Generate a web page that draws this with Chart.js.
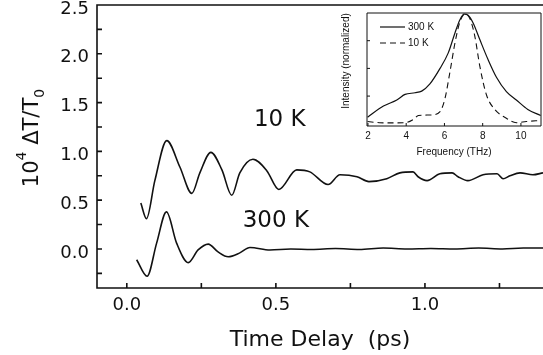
<!DOCTYPE html>
<html>
<head>
<meta charset="utf-8">
<script src="https://cdn.jsdelivr.net/npm/chart.js@4.4.0/dist/chart.umd.min.js"></script>
<style>
  body { margin: 0; background: #fff; }
  #wrap { position: relative; width: 543px; height: 355px; }
  #main { position: absolute; left: 0; top: 0; }
  #inset { position: absolute; left: 330px; top: 8px; background: #fff; }
</style>
</head>
<body>
<div id="wrap">
  <canvas id="main" width="543" height="355"></canvas>
  <canvas id="inset" width="213" height="152"></canvas>
</div>
<script>
// --------------- main panel data -----------------------
const time10K = [0.047, 0.066, 0.094, 0.134, 0.178, 0.218, 0.245, 0.282, 0.319, 0.352, 0.379, 0.423,
  0.470, 0.510, 0.570, 0.614, 0.675, 0.715, 0.772, 0.812, 0.872, 0.916, 0.960, 0.977, 1.007, 1.050,
  1.091, 1.111, 1.144, 1.195, 1.242, 1.262, 1.285, 1.319, 1.362, 1.396];
const signal10K = [0.47, 0.31, 0.70, 1.11, 0.84, 0.57, 0.78, 0.99, 0.81, 0.55, 0.78, 0.92,
  0.80, 0.61, 0.81, 0.79, 0.66, 0.76, 0.74, 0.69, 0.72, 0.78, 0.79, 0.74, 0.70, 0.77,
  0.78, 0.74, 0.70, 0.76, 0.77, 0.72, 0.75, 0.78, 0.76, 0.78];

const time300K = [0.033, 0.068, 0.100, 0.133, 0.167, 0.206, 0.239, 0.273, 0.306, 0.340, 0.379, 0.413,
  0.480, 0.550, 0.620, 0.700, 0.780, 0.860, 0.940, 1.020, 1.100, 1.180, 1.260, 1.330, 1.396];
const signal300K = [-0.11, -0.28, 0.06, 0.38, 0.06, -0.14, -0.01, 0.05, -0.03, -0.08, -0.04, 0.015,
  -0.01, 0.0, -0.005, 0.005, -0.005, 0.01, 0.0, 0.005, 0.0, 0.01, 0.0, 0.01, 0.01];

const delayTicks = [0, 0.25, 0.5, 0.75, 1.0, 1.25];
const signalTicks = [-0.25, 0, 0.25, 0.5, 0.75, 1.0, 1.25, 1.5, 1.75, 2.0, 2.25, 2.5];

const curveNames = ['10 K', '300 K'];
const nameTimes = [0.513, 0.50];
const nameSignals = [1.322, 0.283];

// --------------- inset data -----------------------
const freq300K = [1.98, 2.81, 3.51, 3.94, 4.46, 4.81, 5.24, 5.77, 6.20, 6.55, 6.81, 7.03, 7.24,
  7.50, 7.85, 8.28, 8.72, 9.24, 9.76, 10.36, 11.03];
const inten300K = [0.06, 0.16, 0.215, 0.265, 0.28, 0.295, 0.36, 0.50, 0.64, 0.82, 0.94, 0.99, 0.98,
  0.91, 0.76, 0.58, 0.42, 0.29, 0.215, 0.13, 0.075];

const freq10K = [1.98, 2.6, 3.2, 3.94, 4.38, 4.64, 5.33, 5.77, 6.03, 6.29, 6.55, 6.81, 7.07, 7.33,
  7.59, 7.85, 8.20, 8.63, 9.24, 9.76, 10.28, 11.03];
const inten10K = [0.02, 0.01, 0.008, 0.01, 0.04, 0.075, 0.08, 0.11, 0.23, 0.47, 0.73, 0.92, 0.99, 0.95,
  0.79, 0.52, 0.26, 0.13, 0.05, 0.01, 0.02, 0.03];

const freqTicks = [2, 4, 6, 8, 10];
const intenTicks = [0.25, 0.5, 0.75];

const ink = '#111';
const isHalf = v => Math.abs(v * 2 - Math.round(v * 2)) < 1e-6;
const toPoints = (xs, ys) => xs.map((x, i) => ({x: x, y: ys[i]}));
const noPad = s => { s.paddingTop = 0; s.paddingBottom = 0; s.paddingLeft = 0; s.paddingRight = 0; };

// --------------- frame with inward ticks -----------------------
function framePlugin(tickLen, lineW, closed) {
    return {
        id: 'frame',
        afterDraw(chart) {
            const {ctx, chartArea: a, scales} = chart;
            ctx.save();
            ctx.strokeStyle = ink;
            ctx.lineWidth = lineW;
            ctx.beginPath();
            ctx.moveTo(a.right, a.top);
            ctx.lineTo(a.left, a.top);
            ctx.lineTo(a.left, a.bottom);
            ctx.lineTo(a.right, a.bottom);
            if (closed) ctx.lineTo(a.right, a.top);
            scales.x.ticks.forEach(t => {
                const px = scales.x.getPixelForValue(t.value);
                ctx.moveTo(px, a.bottom);
                ctx.lineTo(px, a.bottom - tickLen);
            });
            scales.y.ticks.forEach(t => {
                const py = scales.y.getPixelForValue(t.value);
                ctx.moveTo(a.left, py);
                ctx.lineTo(a.left + tickLen, py);
            });
            ctx.stroke();
            ctx.restore();
        }
    };
}

// --------------- y labels, y title and curve names -----------------------
const mainText = {
    id: 'mainText',
    afterDraw(chart) {
        const {ctx, scales, chartArea} = chart;
        ctx.save();
        ctx.fillStyle = ink;

        // y tick labels sit a little below their ticks, as in the original
        ctx.font = '18px "DejaVu Sans"';
        ctx.textAlign = 'right';
        ctx.textBaseline = 'middle';
        scales.y.ticks.forEach(t => {
            if (isHalf(t.value)) {
                ctx.fillText(t.value.toFixed(1), chartArea.left - 8, scales.y.getPixelForValue(t.value) + 4);
            }
        });

        ctx.font = '23px "DejaVu Sans"';
        ctx.textAlign = 'center';
        curveNames.forEach((n, i) => {
            ctx.fillText(n, scales.x.getPixelForValue(nameTimes[i]), scales.y.getPixelForValue(nameSignals[i]));
        });

        ctx.translate(38, 138);
        ctx.rotate(-Math.PI / 2);
        ctx.textAlign = 'left';
        ctx.textBaseline = 'alphabetic';
        const big = '21px "DejaVu Sans"', small = '14px "DejaVu Sans"';
        const parts = [['10', big, 0], ['4', small, -12], [' \u0394T/T', big, 0], ['0', small, 6]];
        let total = 0;
        parts.forEach(p => { ctx.font = p[1]; p.w = ctx.measureText(p[0]).width; total += p.w; });
        let x = -total / 2;
        parts.forEach(p => { ctx.font = p[1]; ctx.fillText(p[0], x, p[2]); x += p.w; });
        ctx.restore();
    }
};

// --------------- main chart -----------------------
const mainChart = new Chart(document.getElementById('main'), {
    type: 'line',
    data: {
        datasets: [{
            label: '10 K',
            data: toPoints(time10K, signal10K),
            borderColor: ink,
            borderWidth: 1.6,
            pointRadius: 0,
            cubicInterpolationMode: 'monotone',
            fill: false
        }, {
            label: '300 K',
            data: toPoints(time300K, signal300K),
            borderColor: ink,
            borderWidth: 1.6,
            pointRadius: 0,
            cubicInterpolationMode: 'monotone',
            fill: false
        }]
    },
    options: {
        responsive: false,
        animation: false,
        layout: { padding: { top: 5, right: 0, bottom: 0, left: 0 }, autoPadding: false },
        plugins: { legend: { display: false }, tooltip: { enabled: false } },
        scales: {
            x: {
                type: 'linear',
                min: -0.1,
                max: 1.396,
                grid: { display: false, drawTicks: false },
                border: { display: false },
                afterBuildTicks: s => { s.ticks = delayTicks.map(v => ({value: v})); },
                afterFit: s => { s.height = 67; noPad(s); },
                ticks: {
                    padding: 7,
                    autoSkip: false,
                    maxRotation: 0,
                    color: ink,
                    font: { family: 'DejaVu Sans', size: 18 },
                    callback: v => isHalf(v) ? v.toFixed(1) : ''
                },
                title: {
                    display: true,
                    text: 'Time Delay  (ps)',
                    color: ink,
                    font: { family: 'DejaVu Sans', size: 22 },
                    padding: { top: 0, bottom: 2 }
                }
            },
            y: {
                type: 'linear',
                min: -0.4,
                max: 2.5,
                grid: { display: false, drawTicks: false },
                border: { display: false },
                afterBuildTicks: s => { s.ticks = signalTicks.map(v => ({value: v})); },
                afterFit: s => { s.width = 97; noPad(s); },
                ticks: { display: false }
            }
        }
    },
    plugins: [framePlugin(5, 1.6, false), mainText]
});

// --------------- inset legend and y title -----------------------
const insetText = {
    id: 'insetText',
    afterDraw(chart) {
        const ctx = chart.ctx;
        ctx.save();
        ctx.fillStyle = ink;
        ctx.strokeStyle = ink;
        ctx.lineWidth = 1.2;
        ctx.font = '10px "Liberation Sans"';
        ctx.textBaseline = 'middle';
        chart.data.datasets.forEach((d, i) => {
            const y = 19 + i * 16;
            ctx.setLineDash(d.borderDash || []);
            ctx.beginPath();
            ctx.moveTo(50, y);
            ctx.lineTo(75, y);
            ctx.stroke();
            ctx.fillText(d.label, 78, y);
        });
        ctx.setLineDash([]);
        ctx.translate(16, 53);
        ctx.rotate(-Math.PI / 2);
        ctx.textAlign = 'center';
        ctx.fillText('Intensity (normalized)', 0, 0);
        ctx.restore();
    }
};

// --------------- inset chart -----------------------
const insetChart = new Chart(document.getElementById('inset'), {
    type: 'line',
    data: {
        datasets: [{
            label: '300 K',
            data: toPoints(freq300K, inten300K),
            borderColor: ink,
            borderWidth: 1.2,
            pointRadius: 0,
            cubicInterpolationMode: 'monotone',
            fill: false
        }, {
            label: '10 K',
            data: toPoints(freq10K, inten10K),
            borderColor: ink,
            borderWidth: 1.1,
            borderDash: [6, 4],
            pointRadius: 0,
            cubicInterpolationMode: 'monotone',
            fill: false
        }]
    },
    options: {
        responsive: false,
        animation: false,
        layout: { padding: { top: 5, right: 2, bottom: 0, left: 0 }, autoPadding: false },
        plugins: { legend: { display: false }, tooltip: { enabled: false } },
        scales: {
            x: {
                type: 'linear',
                min: 1.95,
                max: 11.05,
                grid: { display: false, drawTicks: false },
                border: { display: false },
                afterBuildTicks: s => { s.ticks = freqTicks.map(v => ({value: v})); },
                afterFit: s => { s.height = 34; noPad(s); },
                ticks: {
                    padding: 4,
                    autoSkip: false,
                    maxRotation: 0,
                    color: ink,
                    font: { family: 'Liberation Sans', size: 10 }
                },
                title: {
                    display: true,
                    text: 'Frequency (THz)',
                    color: ink,
                    font: { family: 'Liberation Sans', size: 10 },
                    padding: { top: 0, bottom: 2 }
                }
            },
            y: {
                type: 'linear',
                min: -0.02,
                max: 1.0,
                grid: { display: false, drawTicks: false },
                border: { display: false },
                afterBuildTicks: s => { s.ticks = intenTicks.map(v => ({value: v})); },
                afterFit: s => { s.width = 37; noPad(s); },
                ticks: { display: false }
            }
        }
    },
    plugins: [framePlugin(3, 1, true), insetText]
});
</script>
</body>
</html>
